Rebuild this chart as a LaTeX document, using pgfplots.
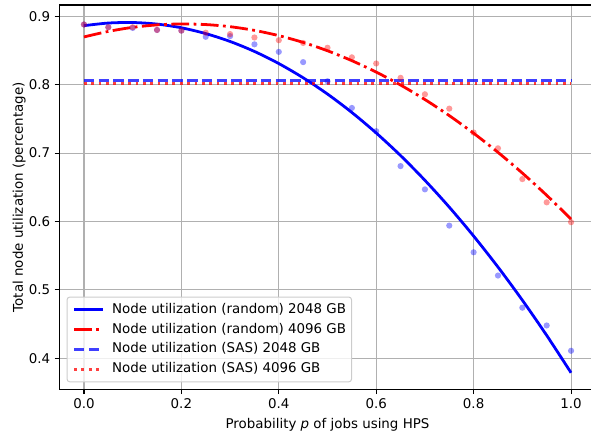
\documentclass[border=0pt]{standalone}
\usepackage{fontspec}
\setmainfont{DejaVu Sans}
\usepackage{pgfplots}
\usepackage{pgfplotstable}
\pgfplotsset{compat=1.18}
\newcommand\f{\fontsize{13.4bp}{16bp}\selectfont}
\definecolor{gridgray}{HTML}{B0B0B0}
\definecolor{legedge}{HTML}{CCCCCC}

\pgfplotstableread{
x y
0.00 0.888
0.05 0.884
0.10 0.883
0.15 0.880
0.20 0.879
0.25 0.870
0.30 0.871
0.35 0.859
0.40 0.848
0.45 0.833
0.50 0.805
0.55 0.766
0.60 0.732
0.65 0.681
0.70 0.647
0.75 0.594
0.80 0.555
0.85 0.521
0.90 0.474
0.95 0.448
1.00 0.411
}\bluepts

\pgfplotstableread{
x y
0.00 0.888
0.05 0.884
0.10 0.884
0.15 0.880
0.20 0.879
0.25 0.876
0.30 0.874
0.35 0.869
0.40 0.865
0.45 0.861
0.50 0.854
0.55 0.840
0.60 0.831
0.65 0.810
0.70 0.786
0.75 0.765
0.80 0.730
0.85 0.707
0.90 0.662
0.95 0.628
1.00 0.599
}\redpts

\pgfplotstableread{
x y
0.00 0.8863
0.05 0.8901
0.10 0.8909
0.15 0.8886
0.20 0.8832
0.25 0.8747
0.30 0.8632
0.35 0.8486
0.40 0.8309
0.45 0.8101
0.50 0.7863
0.55 0.7594
0.60 0.7294
0.65 0.6964
0.70 0.6602
0.75 0.6210
0.80 0.5787
0.85 0.5334
0.90 0.4850
0.95 0.4335
1.00 0.3789
}\bluefit

\pgfplotstableread{
x y
0.00 0.8698
0.05 0.8779
0.10 0.8838
0.15 0.8874
0.20 0.8888
0.25 0.8879
0.30 0.8848
0.35 0.8794
0.40 0.8717
0.45 0.8618
0.50 0.8496
0.55 0.8351
0.60 0.8184
0.65 0.7995
0.70 0.7783
0.75 0.7548
0.80 0.7290
0.85 0.7011
0.90 0.6708
0.95 0.6383
1.00 0.6035
}\redfit

\begin{document}
\f
\begin{tikzpicture}
\begin{axis}[
  scale only axis, width=535.8bp, height=384.3bp,
  xmin=-0.05, xmax=1.05, ymin=0.3547, ymax=0.9165,
  xtick={0,0.2,0.4,0.6,0.8,1.0},
  ytick={0.4,0.5,0.6,0.7,0.8,0.9},
  tick pos=left,
  tick align=outside, major tick length=4.86bp,
  every tick/.style={black, line width=1.1bp},
  axis line style={line width=1.1bp},
  grid=major, major grid style={gridgray, line width=1.1bp},
  /pgf/number format/assume math mode=true,
  xticklabel style={/pgf/number format/.cd, fixed, fixed zerofill, precision=1, /tikz/.cd, font=\f},
  yticklabel style={/pgf/number format/.cd, fixed, fixed zerofill, precision=1, /tikz/.cd, font=\f},
  scaled ticks=false,
  xlabel={Probability \textit{p} of jobs using HPS},
  ylabel={Total node utilization (percentage)},
  label style={font=\f},
  ylabel style={yshift=-6bp},
  legend cell align=left,
  legend style={at={(0,0)}, anchor=south west, xshift=6.95bp, yshift=6.95bp,
    draw=legedge, line width=1bp, rounded corners=2.8bp, fill=white, fill opacity=0.8,
    text opacity=1, draw opacity=1, font=\f, inner xsep=5.6bp, inner ysep=6.1bp,
    row sep=6.6bp, column sep=8bp,
    nodes={inner sep=0bp, text height=10.2bp, text depth=3bp}},
  legend image code/.code={\draw[#1, rounded corners=0pt] (0bp,0bp) -- (28.6bp,0bp);},
]
\addplot[only marks, mark=*, mark size=3.1bp, mark options={fill=blue, fill opacity=0.4, draw opacity=0}, forget plot] table {\bluepts};
\addplot[only marks, mark=*, mark size=3.1bp, mark options={fill=red, fill opacity=0.4, draw opacity=0}, forget plot] table {\redpts};
\addplot[blue, line width=2.78bp, no marks, smooth] table {\bluefit};
\addlegendentry{Node utilization (random) 2048 GB}
\addplot[red, line width=2.78bp, no marks, smooth, dash pattern=on 17.8bp off 4.45bp on 2.78bp off 4.45bp] table {\redfit};
\addlegendentry{Node utilization (random) 4096 GB}
\addplot[blue, draw opacity=0.75, line width=2.78bp, no marks, dash pattern=on 10.3bp off 4.45bp] coordinates {(0,0.8064) (1,0.8064)};
\addlegendentry{Node utilization (SAS) 2048 GB}
\addplot[red, draw opacity=0.75, line width=2.78bp, no marks, dash pattern=on 2.78bp off 4.59bp] coordinates {(0,0.8020) (1,0.8020)};
\addlegendentry{Node utilization (SAS) 4096 GB}
\end{axis}
\pgfresetboundingbox
\path[use as bounding box] (-59.6bp,-46.7bp) rectangle (531.4bp,389.3bp);
\end{tikzpicture}
\end{document}
